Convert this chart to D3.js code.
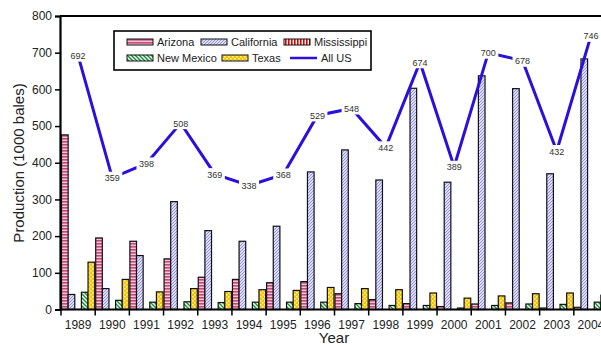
<!DOCTYPE html>
<html><head><meta charset="utf-8">
<script src="https://cdn.jsdelivr.net/npm/d3@7"></script>
<style>body{margin:0;background:#fff;overflow:hidden}svg{display:block;font-family:"Liberation Sans",Arial,sans-serif}</style>
</head><body><svg id="c" width="601" height="345"></svg>
<script>
const years = ["1989","1990","1991","1992","1993","1994","1995","1996","1997","1998","1999","2000","2001","2002","2003","2004"];
const arizona    = [476,195,186,138,88,82,73,76,43,27,16,8,15,18,4,6];
const california = [41,57,147,294,215,186,227,375,435,353,603,347,637,602,370,683];
const mississippi= [0,0,0,0,0,0,0,0,0,0,0,0,0,0,0,0];
const newMexico  = [47,25,20,21,19,20,20,20,16,11,11,4,11,15,14,20];
const texas      = [129,82,48,57,49,54,52,60,57,54,45,31,37,43,45,39];
const allUS      = [692,359,398,508,369,338,368,529,548,442,674,389,700,678,432,746];
const seriesNames = ["Arizona","California","Mississippi","New Mexico","Texas"];
const yTicks = [0,100,200,300,400,500,600,700,800];

const svg = d3.select("#c");
const L=61, R=608, T=16, B=309.5;
const defs = svg.append("defs");
function pat(id,w,h,bg,draw){
  const p=defs.append("pattern").attr("id",id).attr("patternUnits","userSpaceOnUse").attr("width",w).attr("height",h);
  p.append("rect").attr("width",w).attr("height",h).attr("fill",bg);
  draw(p);
}
pat("pAZ",4,3,"#f6c6d8",p=>{p.append("rect").attr("width",4).attr("height",1.6).attr("fill","#c04c7a");});
pat("pCA",3,3,"#ffffff",p=>{p.append("path").attr("d","M-1,4 L4,-1 M-1,1 L1,-1 M2,4 L4,2").attr("stroke","#8c8ce8").attr("stroke-width",1.1);});
pat("pMS",3,4,"#ffffff",p=>{p.append("rect").attr("width",1.6).attr("height",4).attr("fill","#e00000");});
pat("pNM",4,4,"#ffffff",p=>{p.append("path").attr("d","M-1,-1 L5,5 M-1,3 L1,5 M3,-1 L5,1").attr("stroke","#109030").attr("stroke-width",1.4);});
pat("pTX",4,4,"#f8c400",p=>{p.append("rect").attr("x",0).attr("y",0).attr("width",1.5).attr("height",1.5).attr("fill","#fff6c8");p.append("rect").attr("x",2).attr("y",2).attr("width",1.5).attr("height",1.5).attr("fill","#fff6c8");});
const fills = ["url(#pAZ)","url(#pCA)","url(#pMS)","url(#pNM)","url(#pTX)"];
const data = [arizona,california,mississippi,newMexico,texas];

const x0 = d3.scaleBand().domain(years).range([L,R]).paddingInner(0.03).paddingOuter(0.015);
const x1 = d3.scaleBand().domain(seriesNames).range([0,x0.bandwidth()]);
const y = d3.scaleLinear().domain([0,800]).range([B,T]);

// top frame line
svg.append("line").attr("x1",L-1).attr("x2",601).attr("y1",T).attr("y2",T).attr("stroke","#000").attr("stroke-width",2);

// bars
years.forEach((yr,i)=>{
  seriesNames.forEach((s,j)=>{
    const v=data[j][i];
    if(v<=0) return;
    svg.append("rect").attr("x",x0(yr)+x1(s)).attr("y",y(v)).attr("width",x1.bandwidth()).attr("height",B-y(v))
      .attr("fill",fills[j]).attr("stroke","#111").attr("stroke-width",1.2);
  });
});

// axes
const gy = svg.append("g").attr("transform",`translate(${L-1},0)`).call(d3.axisLeft(y).tickValues(yTicks).tickSize(5).tickPadding(3));
gy.select(".domain").attr("stroke-width",2.2);
gy.selectAll("text").attr("font-size",12).attr("fill","#222").attr("font-family","Liberation Sans, Arial");
gy.selectAll(".tick line").attr("stroke-width",1.5);

const gx = svg.append("g").attr("transform",`translate(0,${B})`);
gx.append("line").attr("x1",L-1).attr("x2",601).attr("stroke","#000").attr("stroke-width",2.2);
years.forEach((yr,i)=>{
  const bx = L + i*(R-L)/years.length;
  gx.append("line").attr("x1",bx).attr("x2",bx).attr("y1",0).attr("y2",6).attr("stroke","#000").attr("stroke-width",1.5);
  gx.append("text").attr("x",x0(yr)+x0.bandwidth()/2).attr("y",19.5).attr("text-anchor","middle").attr("font-size",12).attr("fill","#222").text(yr);
});

// All US line
const cx = d=>x0(d)+x0.bandwidth()/2;
const line = d3.line().x((d,i)=>cx(years[i])).y(d=>y(d));
svg.append("path").datum(allUS).attr("d",line).attr("fill","none").attr("stroke","#2a10dc").attr("stroke-width",3);
allUS.forEach((v,i)=>{
  const g=svg.append("g").attr("transform",`translate(${cx(years[i])},${y(v)})`);
  g.append("rect").attr("x",-10).attr("y",-6).attr("width",20).attr("height",12).attr("fill","#fff");
  g.append("text").attr("y",3.5).attr("text-anchor","middle").attr("font-size",9).attr("fill","#333").text(v);
});

// axis titles
svg.append("text").attr("transform","translate(24,163) rotate(-90)").attr("text-anchor","middle").attr("font-size",15).attr("fill","#222").text("Production (1000 bales)");
svg.append("text").attr("x",334).attr("y",343).attr("text-anchor","middle").attr("font-size",15).attr("fill","#222").text("Year");

// legend
const lg = svg.append("g");
lg.append("rect").attr("x",114).attr("y",31).attr("width",257).attr("height",39).attr("fill","#fff").attr("stroke","#000").attr("stroke-width",1.6);
const legItems = [
  {n:"Arizona",f:fills[0],x:127,y:39},
  {n:"California",f:fills[1],x:201,y:39},
  {n:"Mississippi",f:fills[2],x:284,y:39},
  {n:"New Mexico",f:fills[3],x:127,y:55},
  {n:"Texas",f:fills[4],x:222,y:55}
];
legItems.forEach(d=>{
  lg.append("rect").attr("x",d.x).attr("y",d.y).attr("width",26).attr("height",6).attr("fill",d.f).attr("stroke","#111").attr("stroke-width",1);
  lg.append("text").attr("x",d.x+30).attr("y",d.y+7).attr("font-size",11).attr("fill","#222").text(d.n);
});
lg.append("line").attr("x1",290).attr("x2",317).attr("y1",58).attr("y2",58).attr("stroke","#2a10dc").attr("stroke-width",2.5);
lg.append("text").attr("x",321).attr("y",62).attr("font-size",11).attr("fill","#222").text("All US");
</script></body></html>
